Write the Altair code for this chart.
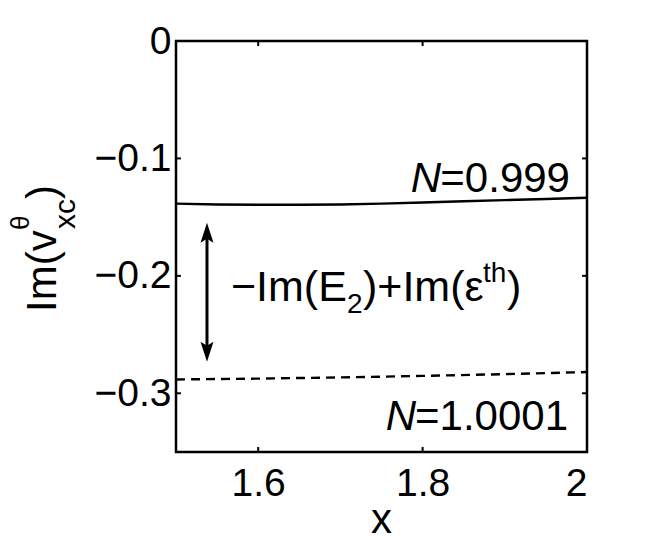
import altair as alt
import pandas as pd

# ---- data ----
x_solid = [1.5, 1.55, 1.6, 1.65, 1.7, 1.75, 1.8, 1.85, 1.9, 1.95, 2.0]
y_solid = [-0.1385, -0.1392, -0.1395, -0.1395, -0.1392, -0.1385, -0.1375,
           -0.1365, -0.1355, -0.1345, -0.1335]
x_dashed = [1.5, 1.6, 1.7, 1.8, 1.9, 2.0]
y_dashed = [-0.2882, -0.2875, -0.2865, -0.2852, -0.2837, -0.2819]

x_domain = [1.5, 2.0]
y_domain = [-0.35, 0.0]
x_tick_values = [1.6, 1.8, 2.0]
y_tick_values = [0.0, -0.1, -0.2, -0.3]

arrow_x = 1.5377
arrow_top = -0.1547
arrow_bottom = -0.2731

label_top = {"x": 1.9793, "y": -0.1284, "rest": "=0.999"}
label_bottom = {"x": 1.9769, "y": -0.3313, "rest": "=1.0001"}
ann_pos = {"x": 1.5669, "y": -0.2215}

FONT = "Liberation Sans"
W, H = 411, 411

xs = alt.Scale(domain=x_domain, nice=False, zero=False)
ys = alt.Scale(domain=y_domain, nice=False, zero=False)

solid_df = pd.DataFrame({"x": x_solid, "y": y_solid})
dashed_df = pd.DataFrame({"x": x_dashed, "y": y_dashed})

label_expr = "replace(format(datum.value, '~g'), '-', '\u2212')"

solid = alt.Chart(solid_df).mark_line(color="black", strokeWidth=2.4, clip=True).encode(
    x=alt.X("x:Q", scale=xs, title=None,
            axis=alt.Axis(values=x_tick_values, labelPadding=12, labelFontSize=39,
                          labelFont=FONT, labelColor="black", labelExpr=label_expr)),
    y=alt.Y("y:Q", scale=ys, title=None,
            axis=alt.Axis(values=y_tick_values, labelPadding=5, labelFontSize=39,
                          labelFont=FONT, labelColor="black", labelExpr=label_expr)),
)
dashed = alt.Chart(dashed_df).mark_line(color="black", strokeWidth=2.4,
                                         strokeDash=[9, 6], clip=True).encode(
    x=alt.X("x:Q", scale=xs), y=alt.Y("y:Q", scale=ys))

# inward tick marks on all four sides
tx = 0.006   # data length of horizontal ticks
ty = 0.0043  # data length of vertical ticks
inner_x = [v for v in x_tick_values if x_domain[0] < v < x_domain[1]]
inner_y = [v for v in y_tick_values if y_domain[0] < v < y_domain[1]]
vt = pd.DataFrame(
    [{"x": v, "y": y_domain[0], "y2": y_domain[0] + ty} for v in inner_x] +
    [{"x": v, "y": y_domain[1], "y2": y_domain[1] - ty} for v in inner_x])
ht = pd.DataFrame(
    [{"y": v, "x": x_domain[0], "x2": x_domain[0] + tx} for v in inner_y] +
    [{"y": v, "x": x_domain[1], "x2": x_domain[1] - tx} for v in inner_y])
vticks = alt.Chart(vt).mark_rule(color="black", strokeWidth=2).encode(
    x=alt.X("x:Q", scale=xs), y=alt.Y("y:Q", scale=ys), y2="y2:Q")
hticks = alt.Chart(ht).mark_rule(color="black", strokeWidth=2).encode(
    y=alt.Y("y:Q", scale=ys), x=alt.X("x:Q", scale=xs), x2="x2:Q")

# double-headed arrow
head_len = 10 / H * (y_domain[1] - y_domain[0])
arrow_df = pd.DataFrame({"x": [arrow_x], "y": [arrow_top - head_len],
                         "y2": [arrow_bottom + head_len]})
shaft = alt.Chart(arrow_df).mark_rule(color="black", strokeWidth=3).encode(
    x=alt.X("x:Q", scale=xs), y=alt.Y("y:Q", scale=ys), y2="y2:Q")
up_head = alt.Chart(pd.DataFrame({"x": [arrow_x], "y": [arrow_top - head_len]})).mark_point(
    shape="M0,-1L-0.65,1L0,0.6L0.65,1Z", size=400, filled=True, color="black",
    opacity=1, strokeWidth=0).encode(x=alt.X("x:Q", scale=xs), y=alt.Y("y:Q", scale=ys))
down_head = alt.Chart(pd.DataFrame({"x": [arrow_x], "y": [arrow_bottom + head_len]})).mark_point(
    shape="M0,1L-0.65,-1L0,-0.6L0.65,-1Z", size=400, filled=True, color="black",
    opacity=1, strokeWidth=0).encode(x=alt.X("x:Q", scale=xs), y=alt.Y("y:Q", scale=ys))


def data_text(pos, text, size, dx=0, dy=0, align="left", style="normal"):
    df = pd.DataFrame({"x": [pos["x"]], "y": [pos["y"]], "t": [text]})
    return alt.Chart(df).mark_text(
        align=align, baseline="alphabetic", dx=dx, dy=dy, fontSize=size,
        font=FONT, fontStyle=style, color="black").encode(
        x=alt.X("x:Q", scale=xs), y=alt.Y("y:Q", scale=ys), text="t:N")


def px_text(px, py, text, size, dx=0, dy=0, align="left", angle=0):
    df = pd.DataFrame({"t": [text]})
    return alt.Chart(df).mark_text(
        align=align, baseline="alphabetic", dx=dx, dy=dy, fontSize=size,
        font=FONT, color="black", angle=angle).encode(
        x=alt.value(px), y=alt.value(py), text="t:N")


# N labels
n_size = 42
n_top = [
    data_text(label_top, label_top["rest"], n_size, align="right"),
    data_text(label_top, "N", n_size, dx=-129, align="right", style="italic"),
]
n_bot = [
    data_text(label_bottom, label_bottom["rest"], n_size, align="right"),
    data_text(label_bottom, "N", n_size, dx=-152, align="right", style="italic"),
]

# annotation  −Im(E2)+Im(ε^th)
A = 43
S = 28
ann = [
    data_text(ann_pos, "\u2212Im(E", A),
    data_text(ann_pos, "2", S, dx=116, dy=12),
    data_text(ann_pos, ")+Im(\u03b5", A, dx=132),
    data_text(ann_pos, "th", S, dx=252, dy=-19),
    data_text(ann_pos, ")", A, dx=276),
]

# y title  Im(v^θ_xc), rotated
YT = 42
ytitle = [
    px_text(-120, 271, "Im(v", YT, angle=270),
    px_text(-120, 271, "\u03b8", 26, dx=82, dy=-27, angle=270),
    px_text(-120, 271, "xc", 30, dx=83, dy=19, angle=270),
    px_text(-120, 271, ")", YT, dx=113, angle=270),
]
# x title
xtitle = px_text(W / 2, 492, "x", 42, align="center")

chart = alt.layer(
    solid, dashed, vticks, hticks, shaft, up_head, down_head,
    *n_top, *n_bot, *ann, *ytitle, xtitle,
).properties(
    width=W, height=H,
    autosize="none",
    padding={"left": 168, "top": 33, "right": 50, "bottom": 82},
).configure_view(
    stroke="black", strokeWidth=2.5
).configure_axis(
    grid=False, domain=False, ticks=False
)

chart.save("out.html", embed_options={"renderer": "svg", "actions": False})
